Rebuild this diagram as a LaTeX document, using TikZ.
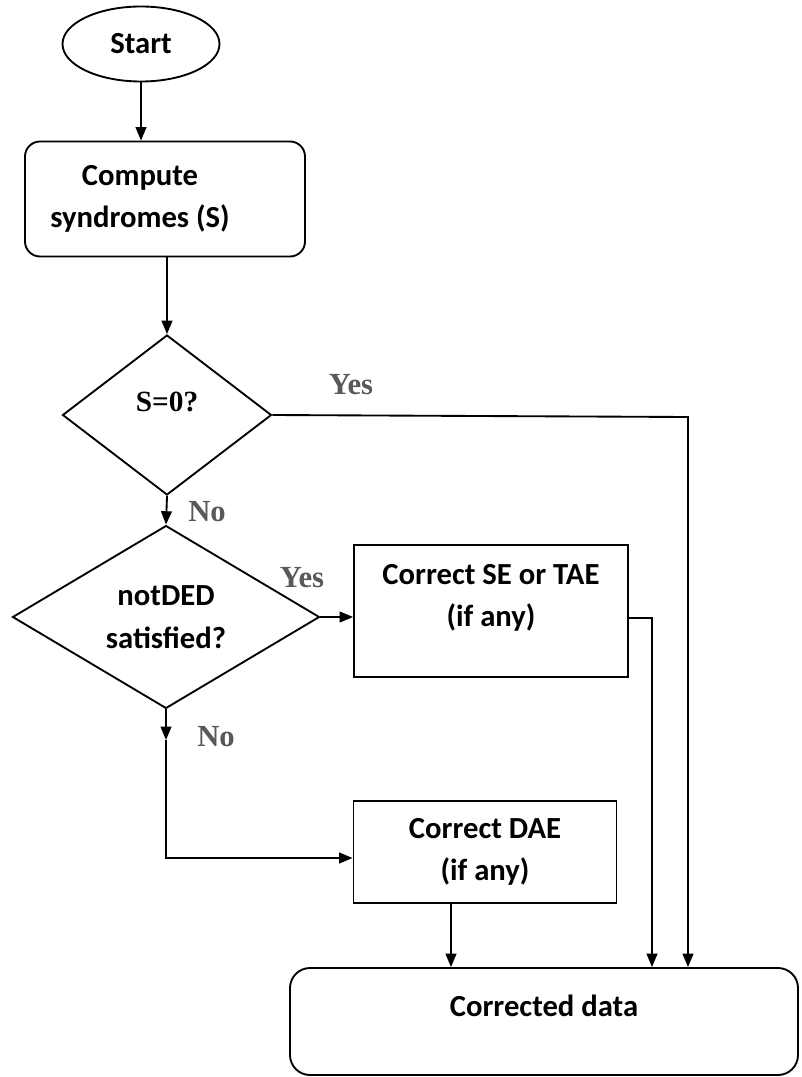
\documentclass[tikz,border=0pt]{standalone}
\usepackage{fontspec}
\setmainfont{Carlito}
\newfontfamily\yesnofont{Liberation Serif}
\usetikzlibrary{shapes.geometric, arrows.meta}
\newdimen\pxu \pxu=0.75pt

\begin{document}
\begin{tikzpicture}[
        x=0.75pt, y=-0.75pt,
        every node/.style={font=\fontsize{23}{32}\selectfont\bfseries, align=center},
        arrow/.style={line width=1.4pt, -{Triangle[length=10pt, width=8pt]}},
        terminal/.style={draw, ellipse, line width=1.4pt, inner sep=0pt},
        procbox/.style={draw, rectangle, line width=1.4pt, inner sep=0pt},
        decision/.style={draw, diamond, line width=1.4pt, inner sep=0pt},
        answer/.style={font=\yesnofont\fontsize{23}{27}\selectfont\bfseries, text=black!65}
    ]
        \useasboundingbox (0,0) rectangle (801,1077);

        % --- ZACETEK IN SINDROMI ---
        \node[terminal, minimum width=157\pxu, minimum height=75\pxu] (start) at (141,44) {Start};
        \node[procbox, rounded corners=15\pxu, minimum width=280\pxu, minimum height=115\pxu,
              label={[xshift=-25\pxu]center:{Compute\\syndromes (S)}}] (compute) at (165,199) {};

        % --- ODLOCITVI ---
        \node[decision, minimum width=209\pxu, minimum height=160\pxu,
              label={[yshift=13\pxu, font=\yesnofont\fontsize{22}{27}\selectfont\bfseries]center:{S=0?}}] (szero) at (167,415) {};
        \node[decision, minimum width=307\pxu, minimum height=178\pxu] (notded) at (166,617) {notDED\\satisfied?};

        % --- POPRAVKI ---
        \node[procbox, minimum width=274\pxu, minimum height=132\pxu,
              label={[yshift=13\pxu]center:{Correct SE or TAE\\(if any)}}] (correctse) at (491,611) {};
        \node[procbox, minimum width=263\pxu, minimum height=102\pxu] (correctdae) at (485,852) {Correct DAE\\(if any)};
        \node[procbox, rounded corners=20\pxu, minimum width=508\pxu, minimum height=107\pxu,
              label={[yshift=16\pxu]center:{Corrected data}}] (corrected) at (544,1021.5) {};

        % Pomozne tocke za lomljene povezave
        \coordinate (yesturn) at (688,417);
        \coordinate (seturn) at (652,618);
        \coordinate (nomark) at (166,740);
        \coordinate (noturn) at (166,858);

        % --- POVEZAVE ---
        \draw[arrow] (start.south) -- (start.south |- compute.north);
        \draw[arrow] (compute.south -| szero.north) -- (szero.north);
        \draw[arrow] (szero.south) -- (notded.north);
        \draw[arrow] (notded.east) -- (notded.east -| correctse.west);
        \draw[arrow] (szero.east) -- (yesturn) -- (yesturn |- corrected.north);
        \draw[arrow] (correctse.east |- seturn) -- (seturn) -- (seturn |- corrected.north);
        \draw[arrow] (notded.south) -- (nomark);
        \draw[arrow] (nomark) -- (noturn) -- (noturn -| correctdae.west);
        \draw[arrow] ([xshift=-34\pxu]correctdae.south) -- ([xshift=-34\pxu]correctdae.south |- corrected.north);

        % Oznake vej
        \node[answer] (yesone) at (351,385) {Yes};
        \node[answer] (noone) at (207,512) {No};
        \node[answer] (yestwo) at (302,578) {Yes};
        \node[answer] (notwo) at (216,737) {No};
    \end{tikzpicture}
\end{document}
